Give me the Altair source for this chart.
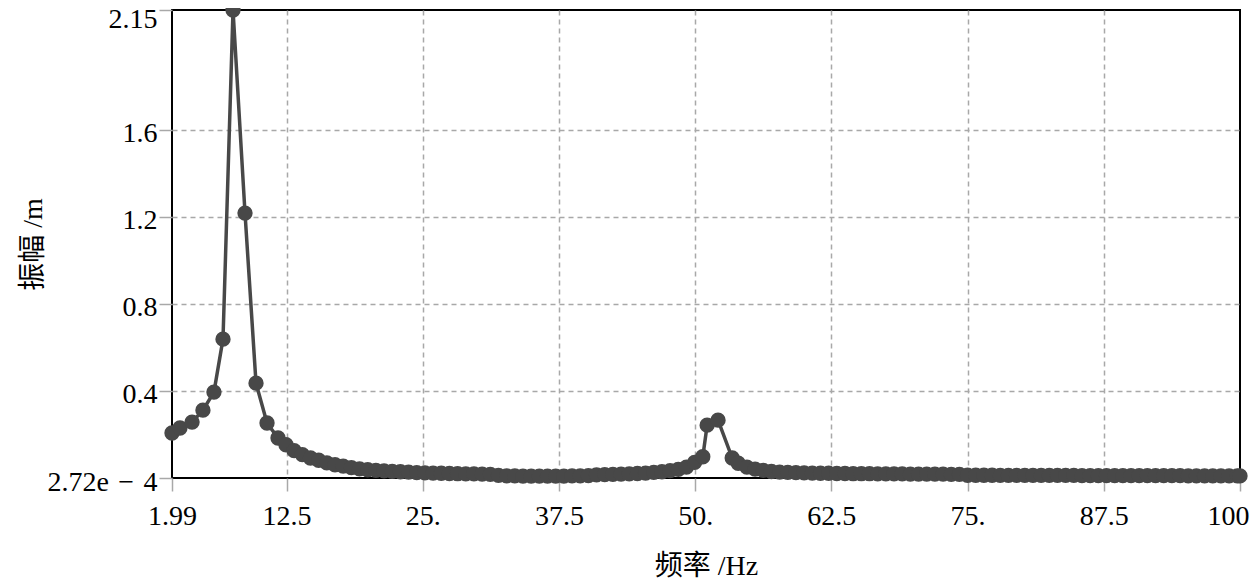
import altair as alt
import pandas as pd

# frequency (Hz)
freq = [
    1.99, 2.72, 3.83, 4.83, 5.84, 6.67, 7.59, 8.69, 9.70, 10.71, 11.72,
    12.45, 13.2, 13.95, 14.7, 15.45, 16.2, 16.95, 17.7, 18.45, 19.2,
    19.95, 20.7, 21.45, 22.2, 22.95, 23.7, 24.45, 25.2, 25.95, 26.7,
    27.45, 28.2, 28.95, 29.7, 30.45, 31.2, 31.95, 32.7, 33.45, 34.2,
    34.95, 35.7, 36.45, 37.2, 37.95, 38.7, 39.45, 40.2, 40.95, 41.7,
    42.45, 43.2, 43.95, 44.7, 45.45, 46.2, 46.95, 47.7, 48.45, 49.2,
    49.95, 50.7, 51.1, 52.1, 53.4, 53.95, 54.75, 55.5, 56.25, 57.0,
    57.75, 58.5, 59.25, 60.0, 60.75, 61.5, 62.25, 63.0, 63.75, 64.5,
    65.25, 66.0, 66.75, 67.5, 68.25, 69.0, 69.75, 70.5, 71.25, 72.0,
    72.75, 73.5, 74.25, 75.0, 75.75, 76.5, 77.25, 78.0, 78.75, 79.5,
    80.25, 81.0, 81.75, 82.5, 83.25, 84.0, 84.75, 85.5, 86.25, 87.0,
    87.75, 88.5, 89.25, 90.0, 90.75, 91.5, 92.25, 93.0, 93.75, 94.5,
    95.25, 96.0, 96.75, 97.5, 98.25, 99.0, 99.75, 100.0,
]

# amplitude (m)
amp = [
    0.207, 0.230, 0.257, 0.312, 0.395, 0.638, 2.15, 1.217, 0.436, 0.253, 0.184,
    0.153, 0.126, 0.108, 0.092, 0.082, 0.070, 0.061, 0.055, 0.048, 0.042,
    0.038, 0.035, 0.033, 0.031, 0.029, 0.027, 0.025, 0.024, 0.023, 0.022,
    0.021, 0.020, 0.019, 0.019, 0.018, 0.017, 0.012, 0.010, 0.010, 0.009,
    0.009, 0.009, 0.009, 0.009, 0.009, 0.010, 0.010, 0.011, 0.015, 0.016,
    0.017, 0.018, 0.019, 0.021, 0.023, 0.026, 0.029, 0.034, 0.040, 0.050,
    0.072, 0.098, 0.243, 0.266, 0.092, 0.068, 0.050, 0.041, 0.035, 0.030,
    0.027, 0.026, 0.025, 0.024, 0.023, 0.022, 0.022, 0.021, 0.021, 0.020,
    0.020, 0.020, 0.019, 0.019, 0.019, 0.019, 0.018, 0.018, 0.018, 0.018,
    0.018, 0.017, 0.017, 0.013, 0.013, 0.013, 0.013, 0.012, 0.012, 0.012,
    0.012, 0.012, 0.012, 0.012, 0.012, 0.012, 0.012, 0.011, 0.011, 0.011,
    0.011, 0.011, 0.011, 0.011, 0.011, 0.011, 0.011, 0.011, 0.011, 0.011,
    0.010, 0.010, 0.010, 0.010, 0.010, 0.010, 0.010, 0.010,
]

x_ticks = [1.99, 12.5, 25, 37.5, 50, 62.5, 75, 87.5, 100]
y_ticks = [0.000272, 0.4, 0.8, 1.2, 1.6, 2.15]

df = pd.DataFrame({"freq": freq, "amp": amp})

FONT = "Liberation Serif, Noto Sans CJK SC"
COLOR = "#484848"
GRID = "#a8a8a8"

x_enc = alt.X(
    "freq:Q",
    title="频率 /Hz",
    scale=alt.Scale(domain=[1.99, 100], nice=False, zero=False),
    axis=alt.Axis(
        values=x_ticks,
        labelExpr="datum.value == 100 ? '100' : (datum.value % 1 == 0 ? datum.value + '.' : datum.value + '')",
        labelAlign={"condition": {"test": "datum.value == 100", "value": "right"}, "value": "center"},
        labelOffset={"condition": {"test": "datum.value == 100", "value": 9}, "value": 0},
        gridOpacity={"condition": {"test": "datum.value < 2 || datum.value > 99", "value": 0}, "value": 1},
        labelFlush=False,
        labelOverlap=False,
        labelPadding=11,
        titlePadding=22,
    ),
)
y_enc = alt.Y(
    "amp:Q",
    title="振幅 /m",
    scale=alt.Scale(domain=[0.000272, 2.15], nice=False, zero=False),
    axis=alt.Axis(
        values=y_ticks,
        labelExpr="datum.value < 0.01 ? '2.72e\u2004\u2212\u20044' : (datum.value == 2.15 ? '2.15' : format(datum.value, '.1f'))",
        gridOpacity={"condition": {"test": "datum.value < 0.01 || datum.value > 2", "value": 0}, "value": 1},
        labelFlush=False,
        labelOverlap=False,
        labelBaseline="middle",
        labelPadding=2,
        labelOffset={"condition": {"test": "datum.value > 2", "value": 9}, "value": 4},
        titlePadding=0,
    ),
)

base = alt.Chart(df)
line = base.mark_line(color=COLOR, strokeWidth=3.5).encode(x=x_enc, y=y_enc)
points = base.mark_point(filled=True, shape="circle", size=235, color=COLOR, opacity=1).encode(
    x="freq:Q", y="amp:Q"
)

chart = (
    (line + points)
    .properties(
        width=1068,
        height=468,
        autosize=alt.AutoSizeParams(type="none"),
        padding={"left": 164, "top": 2, "right": 10, "bottom": 106},
        background="white",
    )
    .configure_view(stroke="black", strokeWidth=2)
    .configure_axis(
        grid=True,
        gridColor=GRID,
        gridDash=[5, 4],
        gridWidth=1.5,
        domain=False,
        ticks=True,
        tickColor=GRID,
        tickSize=13,
        tickWidth=1.5,
        labelFont=FONT,
        labelFontSize=28,
        labelColor="black",
        titleFont=FONT,
        titleFontSize=28,
        titleFontWeight="normal",
        titleColor="black",
    )
)

chart.save("out.html", embed_options={"renderer": "svg", "actions": False})
